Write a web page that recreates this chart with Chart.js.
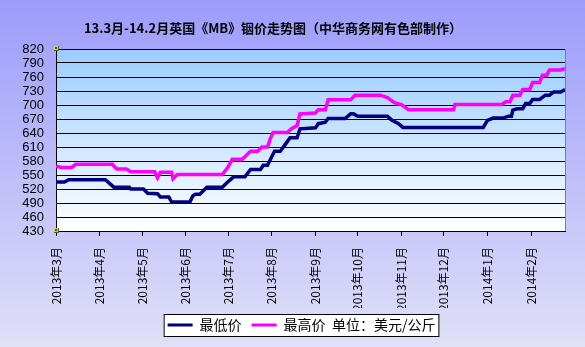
<!DOCTYPE html>
<html>
<head>
<meta charset="utf-8">
<script src="https://cdn.jsdelivr.net/npm/chart.js@4.4.1/dist/chart.umd.min.js"></script>
<style>
  body { margin: 0; }
  canvas { display: block; }
</style>
</head>
<body>
<canvas id="grafica" width="585" height="347"></canvas>
<script>
// 铟价数据：每个拐点的日期和价格（美元/公斤）
const lowDates = [
  '2013-03-01', '2013-03-07', '2013-03-10', '2013-04-05', '2013-04-11', '2013-04-22',
  '2013-04-23', '2013-05-02', '2013-05-05', '2013-05-12', '2013-05-14', '2013-05-20',
  '2013-05-22', '2013-06-04', '2013-06-06', '2013-06-08', '2013-06-11', '2013-06-16',
  '2013-06-27', '2013-06-30', '2013-07-05', '2013-07-13', '2013-07-17', '2013-07-24',
  '2013-07-26', '2013-07-29', '2013-08-01', '2013-08-03', '2013-08-07', '2013-08-10',
  '2013-08-14', '2013-08-19', '2013-08-21', '2013-09-01', '2013-09-03', '2013-09-08',
  '2013-09-10', '2013-09-22', '2013-09-26', '2013-09-28', '2013-10-01', '2013-10-22',
  '2013-10-25', '2013-10-30', '2013-11-02', '2013-12-29', '2014-01-01', '2014-01-05',
  '2014-01-12', '2014-01-16', '2014-01-18', '2014-01-19', '2014-01-22', '2014-01-26',
  '2014-01-28', '2014-01-31', '2014-02-02', '2014-02-07', '2014-02-11', '2014-02-14',
  '2014-02-17', '2014-02-22', '2014-02-25'
];
const lowValues = [
  535, 535, 540, 540, 524, 524,
  520, 520, 511, 510, 503, 503,
  492, 492, 505, 509, 509, 524,
  524, 533, 546, 546, 562, 562,
  571, 571, 589, 601, 601, 613,
  630, 630, 649, 651, 660, 663,
  671, 671, 681, 681, 676, 676,
  668, 660, 652, 652, 667, 672,
  672, 676, 676, 689, 692, 692,
  703, 703, 712, 712, 721, 721,
  728, 728, 733
];

const highDates = [
  '2013-03-01', '2013-03-05', '2013-03-12', '2013-03-15', '2013-04-10', '2013-04-13',
  '2013-04-20', '2013-04-23', '2013-05-10', '2013-05-12', '2013-05-14', '2013-05-22',
  '2013-05-23', '2013-05-26', '2013-06-27', '2013-07-01', '2013-07-04', '2013-07-11',
  '2013-07-13', '2013-07-17', '2013-07-22', '2013-07-25', '2013-07-29', '2013-07-31',
  '2013-08-02', '2013-08-12', '2013-08-15', '2013-08-19', '2013-08-21', '2013-09-01',
  '2013-09-03', '2013-09-08', '2013-09-10', '2013-09-26', '2013-09-29', '2013-10-17',
  '2013-10-22', '2013-10-27', '2013-11-01', '2013-11-06', '2013-12-08', '2013-12-09',
  '2014-01-11', '2014-01-14', '2014-01-17', '2014-01-19', '2014-01-24', '2014-01-26',
  '2014-01-31', '2014-02-02', '2014-02-07', '2014-02-09', '2014-02-12', '2014-02-14',
  '2014-02-22', '2014-02-25'
];
const highValues = [
  569, 566, 566, 573, 573, 563,
  563, 557, 557, 544, 556, 556,
  542, 551, 551, 567, 584, 584,
  589, 601, 601, 610, 610, 628,
  641, 641, 649, 656, 681, 683,
  690, 690, 711, 711, 721, 721,
  716, 705, 701, 690, 690, 701,
  701, 707, 707, 721, 721, 733,
  733, 748, 748, 764, 764, 775,
  775, 778
];

// 横轴刻度：每月1日
const monthDates = [
  '2013-03-01', '2013-04-01', '2013-05-01', '2013-06-01', '2013-07-01', '2013-08-01',
  '2013-09-01', '2013-10-01', '2013-11-01', '2013-12-01', '2014-01-01', '2014-02-01'
];
const monthLabels = [
  '2013年3月', '2013年4月', '2013年5月', '2013年6月', '2013年7月', '2013年8月',
  '2013年9月', '2013年10月', '2013年11月', '2013年12月', '2014年1月', '2014年2月'
];
const yTicks = [430, 460, 490, 520, 550, 580, 610, 640, 670, 700, 730, 760, 790, 820];

const titulo = '13.3月-14.2月英国《MB》铟价走势图（中华商务网有色部制作）';
const unidad = '单位：美元/公斤';

const inicio = Date.parse('2013-03-01');
function dia(s) {
  return (Date.parse(s) - inicio) / 86400000;
}
function puntos(fechas, valores) {
  return fechas.map((f, i) => ({ x: dia(f), y: valores[i] }));
}

// Fondo, título y marco de la leyenda
const fondo = {
  id: 'fondo',
  afterLayout(chart) {
    // desplazar la leyenda un poco a la derecha
    const lg = chart.legend;
    lg.left += 19;
    lg.right += 19;
  },
  beforeDraw(chart) {
    const { ctx, width, height, chartArea: a } = chart;
    ctx.save();
    let g = ctx.createLinearGradient(0, 0, 0, height);
    g.addColorStop(0, '#9c9cfc');
    g.addColorStop(1, '#e0e0f8');
    ctx.fillStyle = g;
    ctx.fillRect(0, 0, width, height);

    g = ctx.createLinearGradient(0, a.top, 0, a.bottom);
    g.addColorStop(0, '#99ccff');
    g.addColorStop(1, '#ffffff');
    ctx.fillStyle = g;
    ctx.fillRect(a.left, a.top, a.width, a.height);

    ctx.fillStyle = '#000';
    ctx.font = 'bold 13px "Noto Sans CJK SC"';
    ctx.textAlign = 'center';
    ctx.textBaseline = 'middle';
    ctx.fillText(titulo, 273, 28);

    const cajas = chart.legend.legendHitBoxes;
    if (cajas && cajas.length) {
      const izq = cajas[0].left - 4;
      const der = cajas[cajas.length - 1].left + cajas[cajas.length - 1].width + 3;
      const arriba = cajas[0].top + cajas[0].height / 2 - 11;
      ctx.fillStyle = '#ffffff';
      ctx.fillRect(izq, arriba, der - izq, 22);
      ctx.strokeStyle = '#000';
      ctx.lineWidth = 1;
      ctx.strokeRect(izq + 0.5, arriba + 0.5, der - izq, 22);
    }
    ctx.restore();
  },
  afterDraw(chart) {
    const { ctx, chartArea: a } = chart;
    ctx.save();
    ctx.strokeStyle = '#808080';
    ctx.lineWidth = 1;
    ctx.beginPath();
    ctx.moveTo(a.right + 0.5, a.top);
    ctx.lineTo(a.right + 0.5, a.bottom);
    ctx.stroke();
    // esquinas del área de trazado
    ctx.fillStyle = '#5a5a28';
    ctx.strokeStyle = '#c8c890';
    [a.top, a.bottom].forEach(y => {
      ctx.fillRect(a.left - 2, y - 3, 5, 5);
      ctx.strokeRect(a.left - 1.5, y - 2.5, 3, 3);
    });
    ctx.restore();
  }
};

function setupChart() {
  const ctx = document.getElementById('grafica').getContext('2d');
  new Chart(ctx, {
    type: 'line',
    data: {
      datasets: [{
        label: '最低价',
        data: puntos(lowDates, lowValues),
        borderColor: '#000080',
        backgroundColor: '#000080',
        borderWidth: 3.5,
        pointRadius: 0,
        tension: 0
      }, {
        label: '最高价  ' + unidad,
        data: puntos(highDates, highValues),
        borderColor: '#ff00ff',
        backgroundColor: '#ff00ff',
        borderWidth: 3.5,
        pointRadius: 0,
        tension: 0
      }]
    },
    options: {
      responsive: false,
      animation: false,
      layout: { padding: { top: 49, left: 0, right: 20, bottom: 5 } },
      plugins: {
        title: { display: false },
        tooltip: { enabled: false },
        legend: {
          position: 'bottom',
          labels: {
            color: '#000',
            font: { family: '"Noto Sans CJK SC"', size: 14 },
            boxWidth: 25,
            boxHeight: 3,
            padding: 10,
            generateLabels(chart) {
              return Chart.defaults.plugins.legend.labels.generateLabels(chart).map(l => {
                l.lineWidth = 0;
                return l;
              });
            }
          }
        }
      },
      scales: {
        x: {
          type: 'linear',
          min: 0,
          max: dia(lowDates[lowDates.length - 1]),
          afterBuildTicks(scale) {
            scale.ticks = monthDates.map(d => ({ value: dia(d) }));
          },
          afterFit(scale) { scale.height = 77; },
          ticks: {
            autoSkip: false,
            minRotation: 90,
            maxRotation: 90,
            padding: 11,
            color: '#000',
            font: { family: '"Noto Sans CJK SC"', size: 12 },
            callback: (v, i) => monthLabels[i]
          },
          grid: {
            drawOnChartArea: false,
            drawTicks: true,
            tickLength: 5,
            color: '#000'
          },
          border: { color: '#000', width: 1 }
        },
        y: {
          min: 430,
          max: 820,
          afterBuildTicks(scale) {
            scale.ticks = yTicks.map(v => ({ value: v }));
          },
          afterFit(scale) { scale.width = 56; },
          ticks: {
            autoSkip: false,
            padding: 12,
            color: '#000',
            font: { family: '"Liberation Sans"', size: 13 }
          },
          grid: { color: '#000', drawTicks: false },
          border: { color: '#000', width: 1 }
        }
      }
    },
    plugins: [fondo]
  });
}

document.addEventListener('DOMContentLoaded', setupChart);
</script>
</body>
</html>
